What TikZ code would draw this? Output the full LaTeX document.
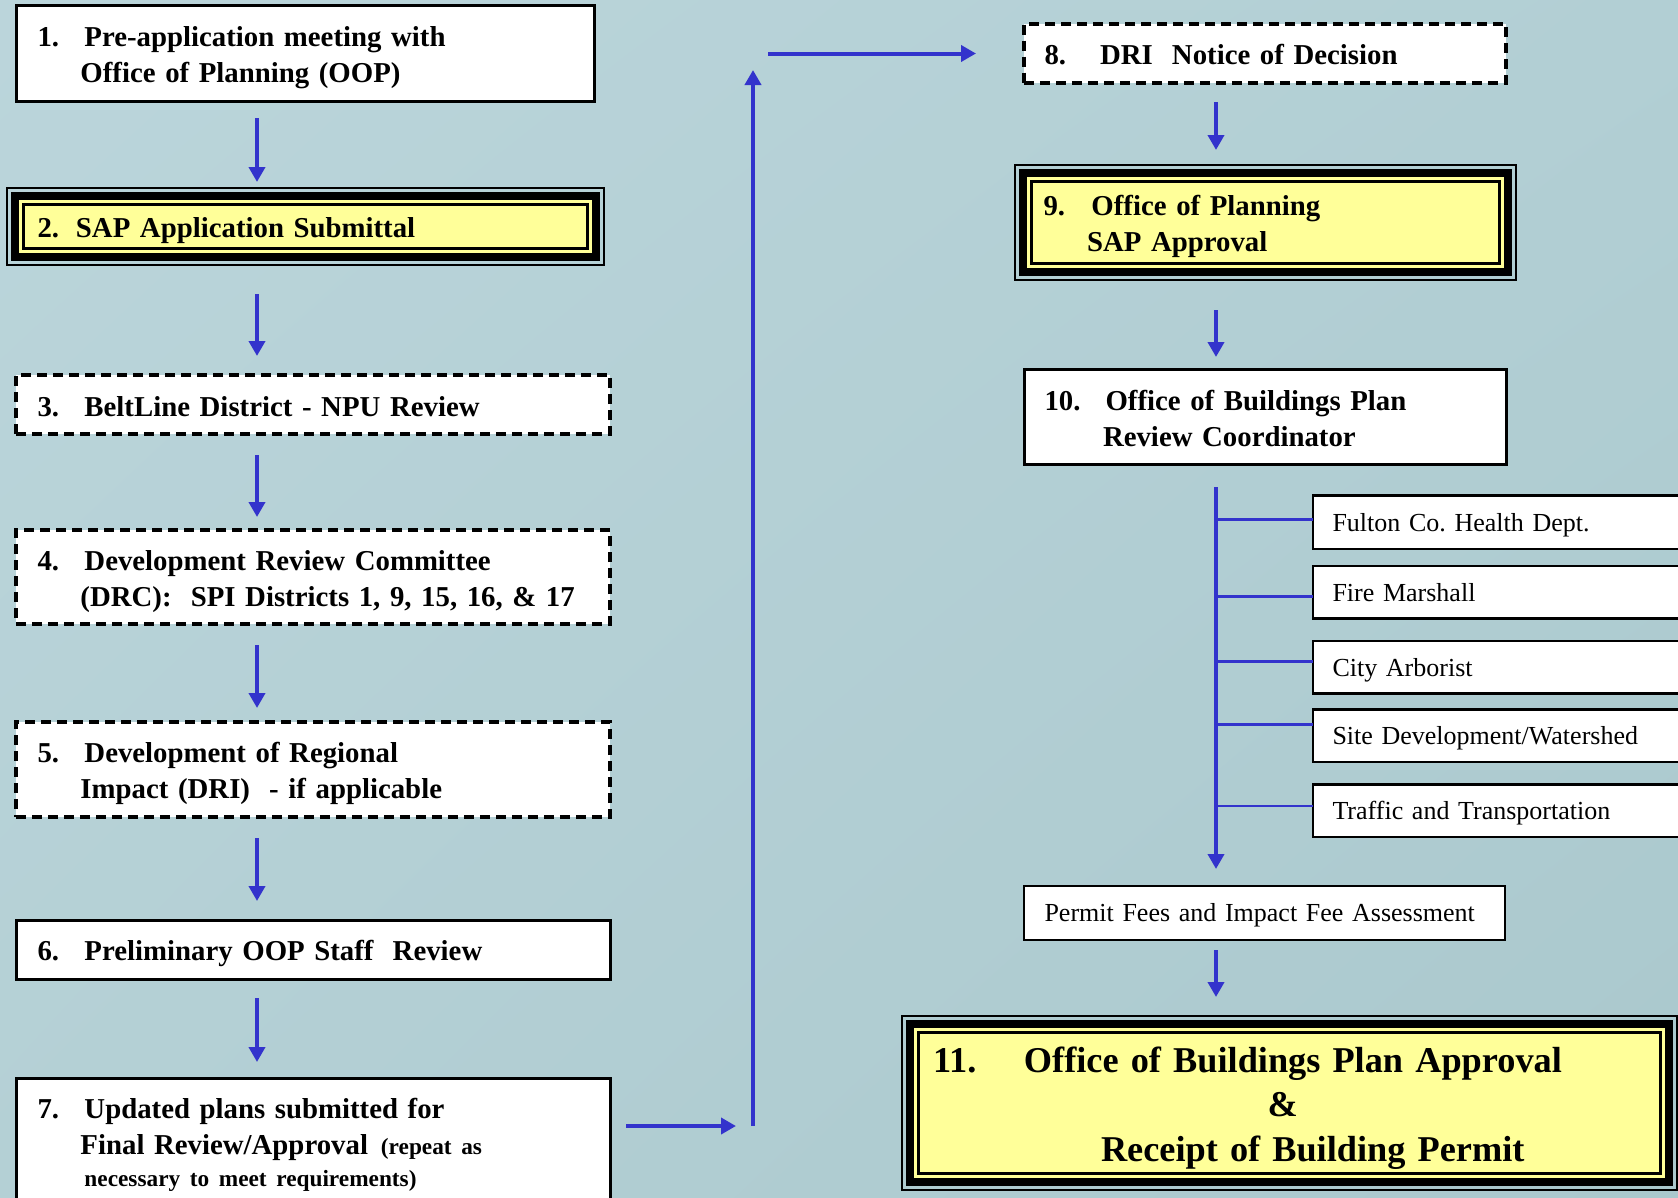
\documentclass[tikz,border=0pt]{standalone}
\usepackage{fontspec}
\setmainfont{Liberation Serif}
\usetikzlibrary{arrows.meta,calc,shadings}
\definecolor{yellowc}{RGB}{255,255,153}
\definecolor{bluec}{RGB}{51,51,204}
\definecolor{bgA}{RGB}{187,213,219}
\definecolor{bgB}{RGB}{178,207,212}
\definecolor{bgC}{RGB}{180,208,213}
\definecolor{bgD}{RGB}{170,200,205}
\pgfdeclarelayer{back}
\pgfdeclarelayer{mid}
\pgfsetlayers{back,mid,main}
\newcommand\tripleframe[1]{%
  \begin{pgfonlayer}{mid}
  \fill[yellowc] ([shift={(-6pt,6pt)}]#1.north west) rectangle ([shift={(6pt,-6pt)}]#1.south east);
  \draw[line width=8pt] ([shift={(-8.5pt,8.5pt)}]#1.north west) rectangle ([shift={(8.5pt,-8.5pt)}]#1.south east);
  \draw[line width=2pt] ([shift={(-16.5pt,16.5pt)}]#1.north west) rectangle ([shift={(16.5pt,-16.5pt)}]#1.south east);
  \end{pgfonlayer}}
\newcommand\topst{\rule{0pt}{29pt}}
\newcommand\botst{\rule[-6pt]{0pt}{6pt}}
\newcommand\rtopst{\rule{0pt}{23.5pt}}
\newcommand\rbotst{\rule[-4.5pt]{0pt}{4.5pt}}
\newcommand\smallsz{\fontsize{23.3}{36}\selectfont}
\frenchspacing
\begin{document}
\begin{tikzpicture}[x=1pt,y=-1pt,
  box/.style={draw=black, fill=white, line width=3pt, inner xsep=21.5pt, inner ysep=0pt,
    outer sep=0pt, anchor=north west, align=left,
    font=\bfseries\fontsize{28.8}{36}\selectfont},
  dbox/.style={box, line width=4pt, dash pattern=on 10pt off 6pt},
  ybox/.style={box, fill=yellowc, inner xsep=14.5pt},
  rbox/.style={draw=black, fill=white, line width=2.5pt, inner xsep=19.4pt, inner ysep=0pt,
    outer sep=0pt, anchor=north west, align=left,
    font=\fontsize{26}{32}\selectfont},
  arr/.style={draw=bluec, line width=4pt, -{Triangle[width=16pt,length=15pt]}},
  branch/.style={draw=bluec, line width=2.5pt}]
\begin{pgfonlayer}{back}
\shade[upper left=bgA, upper right=bgB, lower left=bgC, lower right=bgD] (0,0) rectangle (1678,1197);
\end{pgfonlayer}
\useasboundingbox (0,0) rectangle (1678,1197);
\clip (0,0) rectangle (1678,1197);

% left column
\node[box, minimum width=578pt, minimum height=96pt, text width=535pt] (b1) at (16,5)
  {\topst\makebox[47pt][l]{1.}Pre-application meeting with\\\hspace*{43pt}Office of Planning (OOP)\botst};
\node[ybox, minimum width=564pt, minimum height=44pt, text width=535pt] (b2) at (23,204.5)
  {\topst\makebox[38.5pt][l]{2.}SAP Application Submittal\botst};
\tripleframe{b2}
\node[dbox, minimum width=594pt, minimum height=59pt, text width=551pt] (b3) at (16,375)
  {\topst\makebox[47pt][l]{3.}BeltLine District - NPU Review\botst};
\node[dbox, minimum width=594pt, minimum height=94pt, text width=551pt] (b4) at (16,530)
  {\topst\makebox[47pt][l]{4.}Development Review Committee\\\hspace*{43pt}(DRC):\ \ SPI Districts 1, 9, 15, 16, \& 17\botst};
\node[dbox, minimum width=594pt, minimum height=95pt, text width=551pt] (b5) at (16,722)
  {\topst\makebox[47pt][l]{5.}Development of Regional\\\hspace*{43pt}Impact (DRI)\ \ - if applicable\botst};
\node[box, minimum width=594pt, minimum height=59pt, text width=551pt] (b6) at (16,920)
  {\topst\makebox[47pt][l]{6.}Preliminary OOP Staff\ \ Review\botst};
\node[box, minimum width=594pt, minimum height=126.4pt, text width=551pt] (b7) at (16,1078)
  {\topst\makebox[47pt][l]{7.}Updated plans submitted for\\\hspace*{43pt}Final Review/Approval\hspace{13pt}{\smallsz(repeat as}\\[-4pt]\hspace*{47pt}{\smallsz necessary to meet requirements)}\botst};

% right column
\node[dbox, minimum width=482pt, minimum height=59pt, text width=441pt, inner xsep=20.5pt] (b8) at (1024,23.5)
  {\topst\makebox[55.5pt][l]{8.}DRI\ \ Notice of Decision\botst};
\node[ybox, minimum width=468pt, minimum height=82pt, text width=443pt, inner xsep=12.5pt] (b9) at (1031,181.5)
  {\topst\makebox[48pt][l]{9.}Office of Planning\\\hspace*{43.5pt}SAP Approval\botst};
\tripleframe{b9}
\node[box, minimum width=482pt, minimum height=95pt, text width=441pt, inner xsep=20.5pt] (b10) at (1024,369)
  {\topst\makebox[61pt][l]{10.}Office of Buildings Plan\\\hspace*{58.5pt}Review Coordinator\botst};

\node[rbox, minimum width=400pt, minimum height=53.5pt, text width=361pt] (fulton) at (1313,495.5) {\rtopst Fulton Co. Health Dept.\rbotst};
\node[rbox, minimum width=400pt, minimum height=52.5pt, text width=361pt] (fire) at (1313,566) {\rtopst Fire Marshall\rbotst};
\node[rbox, minimum width=400pt, minimum height=52.5pt, text width=361pt] (arbor) at (1313,641) {\rtopst City Arborist\rbotst};
\node[rbox, minimum width=400pt, minimum height=52.5pt, text width=361pt] (site) at (1313,709.5) {\rtopst Site Development/Watershed\rbotst};
\node[rbox, minimum width=400pt, minimum height=52.5pt, text width=361pt] (traffic) at (1313,784.5) {\rtopst Traffic and Transportation\rbotst};

\node[rbox, line width=1.5pt, minimum width=481pt, minimum height=54pt, text width=440pt, inner xsep=20.5pt] (permit) at (1024,886)
  {\rtopst Permit Fees and Impact Fee Assessment\rbotst};

\node[ybox, minimum width=742pt, minimum height=141.5pt, text width=713pt,
  font=\bfseries\fontsize{36.3}{44.5}\selectfont] (b11) at (918.5,1032)
  {\rule{0pt}{36pt}\makebox[91pt][l]{11.}Office of Buildings Plan Approval\\\hspace*{334.5pt}\&\\\hspace*{168pt}Receipt of Building Permit\rule[-8pt]{0pt}{8pt}};
\tripleframe{b11}

% connectors
\coordinate (lx) at (257,0);
\coordinate (rx) at (1216,0);
\coordinate (upB) at (753,1126);
\coordinate (upT) at (753,70);
\coordinate (topL) at (768,53.5);

\draw[arr, shorten <=17pt, shorten >=22.5pt] (b1.south -| lx) -- (b2.north -| lx);
\draw[arr, shorten <=45.5pt, shorten >=19pt] (b2.south -| lx) -- (b3.north -| lx);
\draw[arr, shorten <=21pt, shorten >=13pt] (b3.south -| lx) -- (b4.north -| lx);
\draw[arr, shorten <=21pt, shorten >=14pt] (b4.south -| lx) -- (b5.north -| lx);
\draw[arr, shorten <=21pt, shorten >=19pt] (b5.south -| lx) -- (b6.north -| lx);
\draw[arr, shorten <=19pt, shorten >=16pt] (b6.south -| lx) -- (b7.north -| lx);

\draw[arr, shorten <=16pt, shorten >=17pt] (b7.east |- upB) -- (upB);
\draw[arr] (upB) -- (upT);
\draw[arr, shorten >=48pt] (topL) -- (b8.west |- topL);

\draw[arr, shorten <=19.5pt, shorten >=31.5pt] (b8.south -| rx) -- (b9.north -| rx);
\draw[arr, shorten <=46.5pt, shorten >=12pt] (b9.south -| rx) -- (b10.north -| rx);
\draw[arr, shorten <=23pt, shorten >=17pt] (b10.south -| rx) -- (permit.north -| rx);
\draw[arr, shorten <=10pt, shorten >=35pt] (permit.south -| rx) -- (b11.north -| rx);

\draw[branch] ($(fulton.west -| rx)+(0,3pt)$) -- ($(fulton.west)+(0,3pt)$);
\draw[branch] ($(fire.west -| rx)+(0,-4pt)$) -- ($(fire.west)+(0,-4pt)$);
\draw[branch] ($(arbor.west -| rx)+(0,6pt)$) -- ($(arbor.west)+(0,6pt)$);
\draw[branch] ($(site.west -| rx)+(0,11.5pt)$) -- ($(site.west)+(0,11.5pt)$);
\draw[branch] ($(traffic.west -| rx)+(0,5pt)$) -- ($(traffic.west)+(0,5pt)$);
\end{tikzpicture}
\end{document}
